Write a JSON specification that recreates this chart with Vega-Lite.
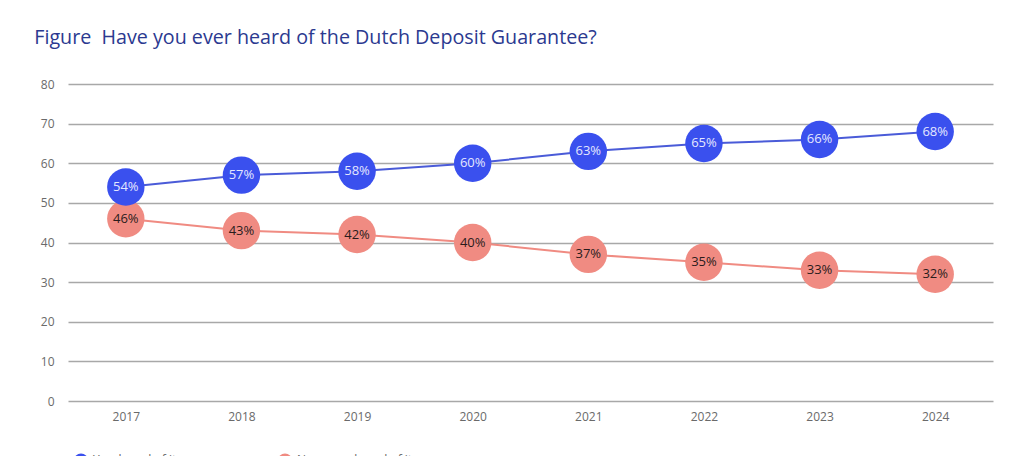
{
  "$schema": "https://vega.github.io/schema/vega-lite/v6.json",
  "autosize": "none",
  "width": 925,
  "height": 317,
  "padding": {"left": 68, "top": 84, "right": 31, "bottom": 55},
  "background": "white",
  "config": {
    "font": "Open Sans",
    "view": {"stroke": null}
  },
  "title": {
    "text": "Figure\u00a0\u00a0Have you ever heard of the Dutch Deposit Guarantee?",
    "anchor": "start",
    "dx": -6,
    "offset": 30,
    "fontSize": 19.7,
    "fontWeight": "normal",
    "color": "#2b3990",
    "font": "Open Sans"
  },
  "data": {
    "values": [
      {"year": "2017", "series": "No, never heard of it", "pct": 46, "label": "46%"},
      {"year": "2018", "series": "No, never heard of it", "pct": 43, "label": "43%"},
      {"year": "2019", "series": "No, never heard of it", "pct": 42, "label": "42%"},
      {"year": "2020", "series": "No, never heard of it", "pct": 40, "label": "40%"},
      {"year": "2021", "series": "No, never heard of it", "pct": 37, "label": "37%"},
      {"year": "2022", "series": "No, never heard of it", "pct": 35, "label": "35%"},
      {"year": "2023", "series": "No, never heard of it", "pct": 33, "label": "33%"},
      {"year": "2024", "series": "No, never heard of it", "pct": 32, "label": "32%"},
      {"year": "2017", "series": "Yes, heard of it", "pct": 54, "label": "54%"},
      {"year": "2018", "series": "Yes, heard of it", "pct": 57, "label": "57%"},
      {"year": "2019", "series": "Yes, heard of it", "pct": 58, "label": "58%"},
      {"year": "2020", "series": "Yes, heard of it", "pct": 60, "label": "60%"},
      {"year": "2021", "series": "Yes, heard of it", "pct": 63, "label": "63%"},
      {"year": "2022", "series": "Yes, heard of it", "pct": 65, "label": "65%"},
      {"year": "2023", "series": "Yes, heard of it", "pct": 66, "label": "66%"},
      {"year": "2024", "series": "Yes, heard of it", "pct": 68, "label": "68%"}
    ]
  },
  "encoding": {
    "x": {
      "field": "year",
      "type": "ordinal",
      "title": null,
      "scale": {"type": "point", "padding": 0.5},
      "axis": {
        "labelAngle": 0,
        "labelColor": "#6a6a6a",
        "labelFontSize": 12,
        "labelPadding": 10,
        "domain": false,
        "ticks": false,
        "grid": false
      }
    },
    "y": {
      "field": "pct",
      "type": "quantitative",
      "title": null,
      "scale": {"domain": [0, 80]},
      "axis": {
        "values": [0, 10, 20, 30, 40, 50, 60, 70, 80],
        "labelColor": "#6a6a6a",
        "labelFontSize": 12,
        "labelPadding": 14,
        "domain": false,
        "ticks": false,
        "gridColor": "#a8a8a8",
        "gridWidth": 1.3
      }
    }
  },
  "layer": [
    {
      "mark": {"type": "line", "strokeWidth": 2},
      "encoding": {
        "detail": {"field": "series", "type": "nominal"},
        "color": {
          "condition": {"test": "datum.series == 'Yes, heard of it'", "value": "#4a5bd8"},
          "value": "#f08b82"
        }
      }
    },
    {
      "mark": {"type": "circle", "size": 1400, "opacity": 1},
      "encoding": {
        "color": {
          "field": "series",
          "type": "nominal",
          "title": null,
          "sort": ["Yes, heard of it", "No, never heard of it"],
          "scale": {
            "domain": ["Yes, heard of it", "No, never heard of it"],
            "range": ["#3a50ee", "#f08b82"]
          },
          "legend": {
            "orient": "bottom",
            "direction": "horizontal",
            "offset": 25,
            "padding": 5,
            "symbolType": "circle",
            "symbolSize": 200,
            "labelFontSize": 12,
            "labelColor": "#666666",
            "columnPadding": 100
          }
        }
      }
    },
    {
      "mark": {"type": "text", "fontSize": 13, "font": "Open Sans"},
      "encoding": {
        "text": {"field": "label", "type": "nominal"},
        "color": {
          "condition": {"test": "datum.series == 'Yes, heard of it'", "value": "#e4e7ff"},
          "value": "#2a1c1c"
        }
      }
    }
  ]
}
